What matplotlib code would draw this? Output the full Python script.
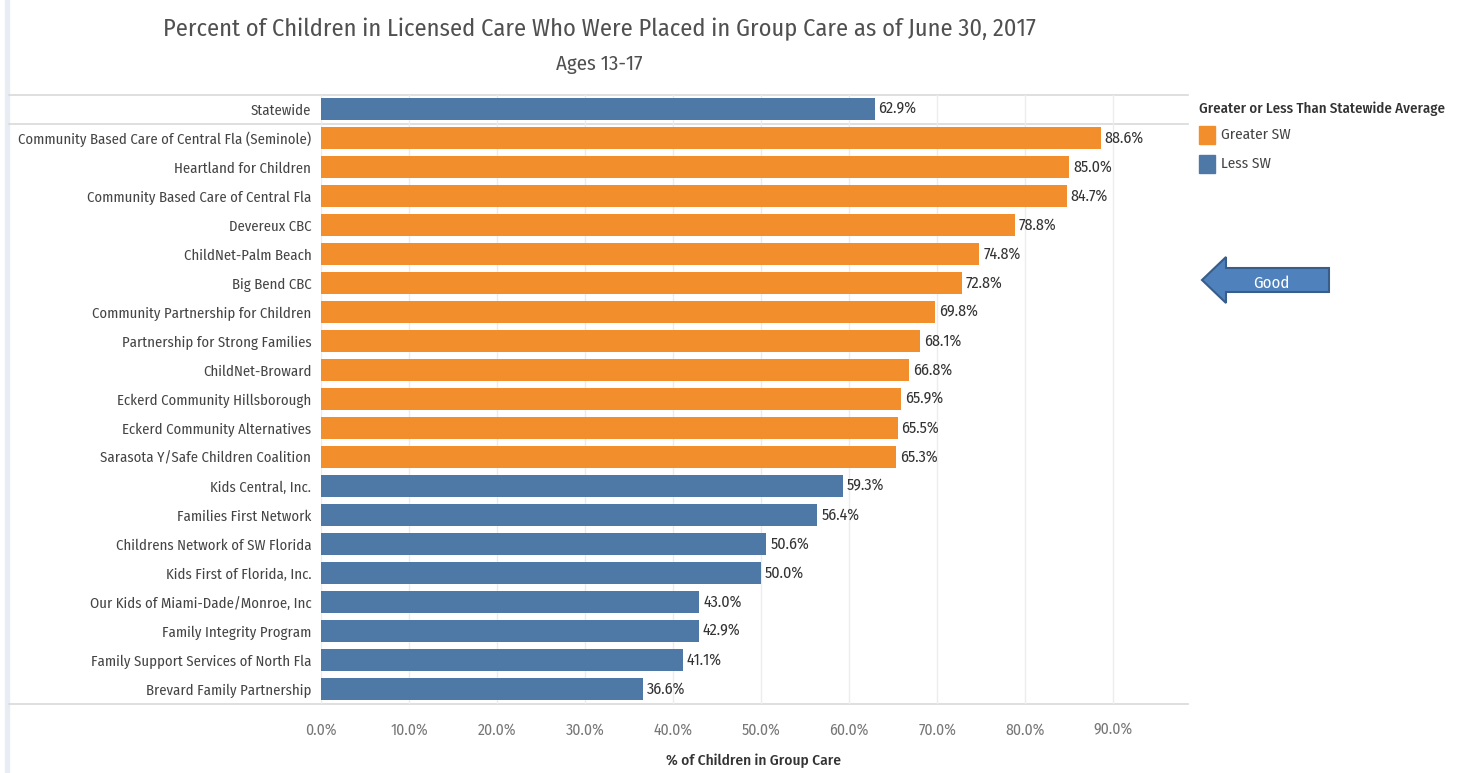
import matplotlib
matplotlib.use("Agg")
import matplotlib.pyplot as plt
from matplotlib.patches import Polygon, Rectangle
from matplotlib.lines import Line2D

# data
agencies = ["Statewide",
            "Community Based Care of Central Fla (Seminole)",
            "Heartland for Children",
            "Community Based Care of Central Fla",
            "Devereux CBC",
            "ChildNet-Palm Beach",
            "Big Bend CBC",
            "Community Partnership for Children",
            "Partnership for Strong Families",
            "ChildNet-Broward",
            "Eckerd Community Hillsborough",
            "Eckerd Community Alternatives",
            "Sarasota Y/Safe Children Coalition",
            "Kids Central, Inc.",
            "Families First Network",
            "Childrens Network of SW Florida",
            "Kids First of Florida, Inc.",
            "Our Kids of Miami-Dade/Monroe, Inc",
            "Family Integrity Program",
            "Family Support Services of North Fla",
            "Brevard Family Partnership"]
pct = [62.9, 88.6, 85.0, 84.7, 78.8, 74.8, 72.8, 69.8, 68.1, 66.8, 65.9,
       65.5, 65.3, 59.3, 56.4, 50.6, 50.0, 43.0, 42.9, 41.1, 36.6]
groups = ["Less SW"] + ["Greater SW"] * 12 + ["Less SW"] * 8
xticks = [0, 10, 20, 30, 40, 50, 60, 70, 80, 90]

colors = {"Greater SW": "#f28e2b", "Less SW": "#4e79a7"}
plt.rcParams['font.family'] = ["Fira Sans Condensed", "DejaVu Sans"]

W, H = 1460, 773
fig = plt.figure(figsize=(W / 100, H / 100), dpi=100)
fig.patch.set_facecolor("white")

# axes: x from pixel 321 to 1188, rows from 94.5 to 703.5
ax = fig.add_axes([321 / W, 1 - 703.5 / H, (1188 - 321) / W, (703.5 - 94.5) / H])
ypos = list(range(len(agencies)))
ax.barh(ypos, pct, height=0.76, color=[colors[g] for g in groups], zorder=3)
for y, v in zip(ypos, pct):
    ax.text(v + 0.45, y, "%.1f%%" % v, va="center", ha="left",
            fontsize=11.5, color="#333333", zorder=4)

ax.set_ylim(20.5, -0.5)
ax.set_xlim(0, 98.5)
ax.set_yticks(ypos)
ax.set_yticklabels(agencies, fontsize=10.6, color="#444444")
ax.set_xticks(xticks)
ax.set_xticklabels(["%.1f%%" % t for t in xticks], fontsize=11.3, color="#777777")
ax.tick_params(axis="both", length=0, pad=7)
ax.tick_params(axis="x", pad=13)
for s in ax.spines.values():
    s.set_visible(False)
ax.xaxis.grid(True, color="#ececec", lw=1, zorder=0)

# horizontal rule lines reaching into the label area
for yy in [-0.5, 0.5, 20.5]:
    ax.add_line(Line2D([-35.5, 98.5], [yy, yy], color="#d9d9d9", lw=1.2,
                       clip_on=False, zorder=1))

fig.text(753 / W, 1 - 761 / H, "% of Children in Group Care", ha="center",
         va="center", fontsize=11, color="#333333", weight="medium")

# left border strip
fig.add_artist(Rectangle((0.0035, 0), 0.0025, 1, transform=fig.transFigure,
                         color="#e8edf4", zorder=0))

# titles
fig.text(599 / W, 1 - 29 / H, "Percent of Children in Licensed Care Who Were Placed in Group Care as of June 30, 2017",
         ha="center", va="center", fontsize=17.5, color="#505050", weight="normal")
fig.text(599 / W, 1 - 64 / H, "Ages 13-17", ha="center", va="center",
         fontsize=15, color="#505050", weight="normal")

# legend
fig.text(1199 / W, 1 - 109 / H, "Greater or Less Than Statewide Average",
         ha="left", va="center", fontsize=10.7, color="#333333", weight="medium")
for i, g in enumerate(["Greater SW", "Less SW"]):
    yc = 135 + 29 * i
    fig.add_artist(Rectangle((1199 / W, 1 - (yc + 9) / H), 16 / W, 18 / H,
                             transform=fig.transFigure, color=colors[g]))
    fig.text(1221 / W, 1 - yc / H, g, ha="left", va="center", fontsize=11,
             color="#444444")

# "Good" arrow
pts = [(1202, 280), (1226, 257), (1226, 268), (1329, 268), (1329, 292),
       (1226, 292), (1226, 303)]
fig.add_artist(Polygon([(x / W, 1 - y / H) for x, y in pts], closed=True,
                       transform=fig.transFigure, facecolor="#4f81bd",
                       edgecolor="#385d8a", lw=1.5))
fig.text(1271 / W, 1 - 283 / H, "Good", ha="center", va="center",
         fontsize=12, color="white")

plt.savefig("out.png", dpi=100)
